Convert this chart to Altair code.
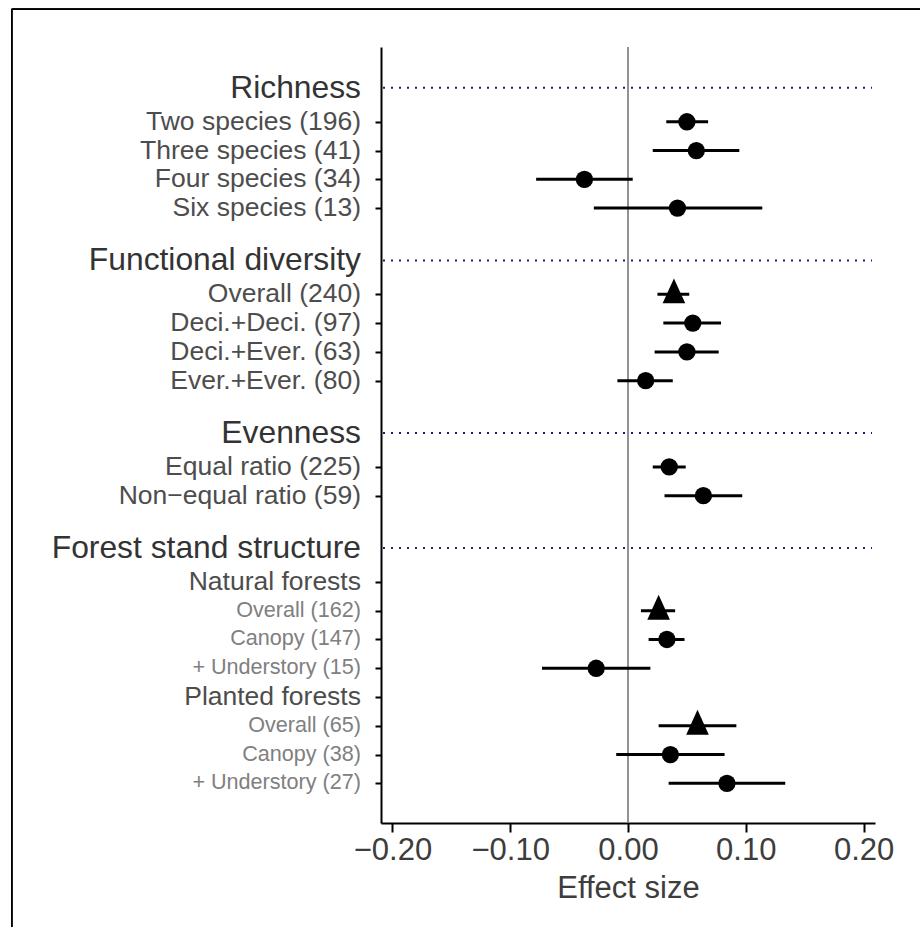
import altair as alt
import pandas as pd

# ---- data ----
groups = ["Richness", "Functional diversity", "Evenness", "Forest stand structure"]
labels = [
    "Two species (196)", "Three species (41)", "Four species (34)", "Six species (13)",
    "Overall (240)", "Deci.+Deci. (97)", "Deci.+Ever. (63)", "Ever.+Ever. (80)",
    "Equal ratio (225)", "Non\u2212equal ratio (59)",
    "Natural forests", "Overall (162)", "Canopy (147)", "+ Understory (15)",
    "Planted forests", "Overall (65)", "Canopy (38)", "+ Understory (27)",
]
label_group = (["Richness"] * 4 + ["Functional diversity"] * 4 + ["Evenness"] * 2
               + ["Forest stand structure"] * 8)
label_level = (["item"] * 10 + ["item", "sub", "sub", "sub", "item", "sub", "sub", "sub"])
estimate = [0.050, 0.058, -0.037, 0.042,
            0.039, 0.055, 0.050, 0.015,
            0.035, 0.064,
            None, 0.026, 0.033, -0.027,
            None, 0.059, 0.036, 0.084]
lower = [0.0325, 0.021, -0.078, -0.029,
         0.025, 0.030, 0.0226, -0.009,
         0.021, 0.031,
         None, 0.011, 0.0175, -0.073,
         None, 0.026, -0.010, 0.0345]
upper = [0.068, 0.0945, 0.004, 0.114,
         0.052, 0.079, 0.077, 0.038,
         0.049, 0.097,
         None, 0.040, 0.048, 0.019,
         None, 0.092, 0.082, 0.1335]
marker = ["circle"] * 4 + ["triangle"] + ["circle"] * 3 + ["circle"] * 2 + \
         [None, "triangle", "circle", "circle", None, "triangle", "circle", "circle"]
x_ticks = [-0.2, -0.1, 0.0, 0.1, 0.2]

# ---- row layout (row index units) ----
rows = []
hdr_rows = []
cursor = 0.0
for gi, g in enumerate(groups):
    idx = [i for i, lg in enumerate(label_group) if lg == g]
    if gi > 0:
        cursor += 3.0
    hdr_rows.append({"label": g, "row": cursor - 1.18})
    for k, i in enumerate(idx):
        rows.append({"label": labels[i], "row": cursor + k, "level": label_level[i],
                     "est": estimate[i], "lo": lower[i], "hi": upper[i],
                     "marker": marker[i]})
    cursor += len(idx) - 1

df = pd.DataFrame(rows)
hdr = pd.DataFrame(hdr_rows)
item_rows = list(df["row"])

yscale = alt.Scale(domain=[-2.6, 24.38], reverse=True, nice=False, zero=False)
xscale = alt.Scale(domain=[-0.2097, 0.2097], nice=False, zero=False)
FONT = "Liberation Sans"

base = alt.Chart(df)

zero = alt.Chart(pd.DataFrame({"x": [0.0]})).mark_rule(
    color="#7f7f7f", strokeWidth=1.7).encode(x=alt.X("x:Q", scale=xscale))

dots = alt.Chart(hdr).mark_rule(
    color="#1c1c80", strokeWidth=2, strokeDash=[2, 6]).encode(
    y=alt.Y("row:Q", scale=yscale), x=alt.value(2), x2=alt.value(491))

err = base.transform_filter("isValid(datum.est)").mark_rule(
    color="#000000", strokeWidth=3).encode(
    y=alt.Y("row:Q", scale=yscale),
    x=alt.X("lo:Q", scale=xscale,
            axis=alt.Axis(values=x_ticks, format=".2f", title="Effect size",
                          labelFont=FONT, labelFontSize=31, labelColor="#3d3d3d",
                          titleFont=FONT, titleFontSize=31, titleFontWeight="normal",
                          titleColor="#3d3d3d", titlePadding=8,
                          tickSize=9, tickWidth=2, tickColor="#000000",
                          domainColor="#000000", domainWidth=2, grid=False,
                          labelPadding=3, labelFlush=False)),
    x2="hi:Q")

circ = base.transform_filter("datum.marker == 'circle'").mark_point(
    filled=True, shape="circle", size=300, color="#000000", opacity=1).encode(
    y=alt.Y("row:Q", scale=yscale), x=alt.X("est:Q", scale=xscale))

tri = base.transform_filter("datum.marker == 'triangle'").mark_point(
    filled=True, shape="M0,-1.41L1,0.79L-1,0.79Z", size=511, color="#000000",
    opacity=1).encode(
    y=alt.Y("row:Q", scale=yscale), x=alt.X("est:Q", scale=xscale))

yaxis_layer = base.mark_point(opacity=0).encode(
    y=alt.Y("row:Q", scale=yscale,
            axis=alt.Axis(values=item_rows, labels=False, title=None, grid=False,
                          tickSize=6, tickWidth=2, tickColor="#000000",
                          domainColor="#000000", domainWidth=2)),
    x=alt.X("est:Q", scale=xscale))

lab_item = base.transform_filter("datum.level == 'item'").mark_text(
    align="right", baseline="middle", font=FONT, fontSize=26.5, color="#4d4d4d").encode(
    y=alt.Y("row:Q", scale=yscale), x=alt.value(-20), text="label:N")

lab_sub = base.transform_filter("datum.level == 'sub'").mark_text(
    align="right", baseline="middle", font=FONT, fontSize=21.6, color="#808080").encode(
    y=alt.Y("row:Q", scale=yscale), x=alt.value(-20), text="label:N")

lab_hdr = alt.Chart(hdr).mark_text(
    align="right", baseline="middle", font=FONT, fontSize=31.8, color="#333333").encode(
    y=alt.Y("row:Q", scale=yscale), x=alt.value(-20), text="label:N")

frame_top = alt.Chart(hdr).mark_rule(color="#000000", strokeWidth=1.4).encode(
    x=alt.value(-369.3), x2=alt.value(545), y=alt.value(-37.7))
frame_left = alt.Chart(hdr).mark_rule(color="#000000", strokeWidth=1.4).encode(
    x=alt.value(-369.3), y=alt.value(-37.7), y2=alt.value(900))

chart = alt.layer(
    frame_top, frame_left, zero, dots, yaxis_layer, err, circ, tri,
    lab_hdr, lab_item, lab_sub,
).properties(
    width=494, height=776,
    autosize=alt.AutoSizeParams(type="none"),
    padding={"left": 381, "top": 47, "right": 45, "bottom": 104},
).configure(background="white").configure_view(stroke=None)

chart.save("out.html", embed_options={"renderer": "svg", "actions": False})
